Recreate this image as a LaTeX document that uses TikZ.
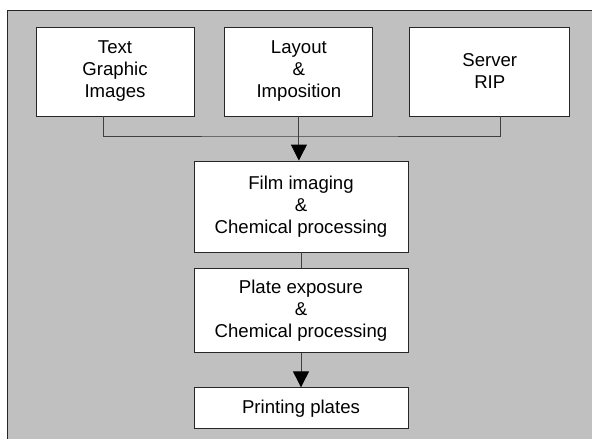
\documentclass[tikz,border=0pt]{standalone}
\usepackage{fontspec}
\setmainfont{Liberation Sans}
\usetikzlibrary{positioning, arrows.meta}
\definecolor{panelgrey}{HTML}{C0C0C0}
\definecolor{edgegrey}{HTML}{404040}
\begin{document}
\begin{tikzpicture}[x=1pt,y=-1pt,
    box/.style={draw=black!85, fill=white, line width=0.9pt, align=center, inner sep=0pt,
        font=\fontsize{18.6}{22}\selectfont},
    link/.style={draw=edgegrey, line width=0.9pt},
    >={Triangle[length=16pt,width=16pt,color=black]}]
    \useasboundingbox (0,0) rectangle (592,439);
    \fill[panelgrey] (7,10) rectangle (592,439);
    \draw[black!85, line width=0.9pt] (7,439) -- (7,10) -- (592,10);

    \node[box, minimum width=158pt, minimum height=89pt] (text) at (115,71.5) {Text\\Graphic\\Images};
    \node[box, minimum width=148pt, minimum height=89pt] (layout) [right=30pt of text] {Layout\\\&\\Imposition};
    \node[box, minimum width=160pt, minimum height=89pt] (server) [right=36pt of layout] {Server\\RIP};

    \node[box, minimum width=214pt, minimum height=91pt] (film) at (301,206.5) {Film imaging\\\&\\Chemical processing};
    \node[box, minimum width=214pt, minimum height=84pt] (plate) [below=16pt of film] {Plate exposure\\\&\\Chemical processing};
    \node[box, minimum width=214pt, minimum height=41pt] (print) [below=34pt of plate] {Printing plates};

    \coordinate (bus) at (298,136);
    \path[link] ([xshift=-12pt]text.south) |- (bus) -| ([xshift=11pt]server.south);
    \path[link,->] (layout.south) -- (layout.south |- film.north);
    \path[link] (film) -- (plate);
    \path[link,->] (plate) -- (print);
\end{tikzpicture}
\end{document}
